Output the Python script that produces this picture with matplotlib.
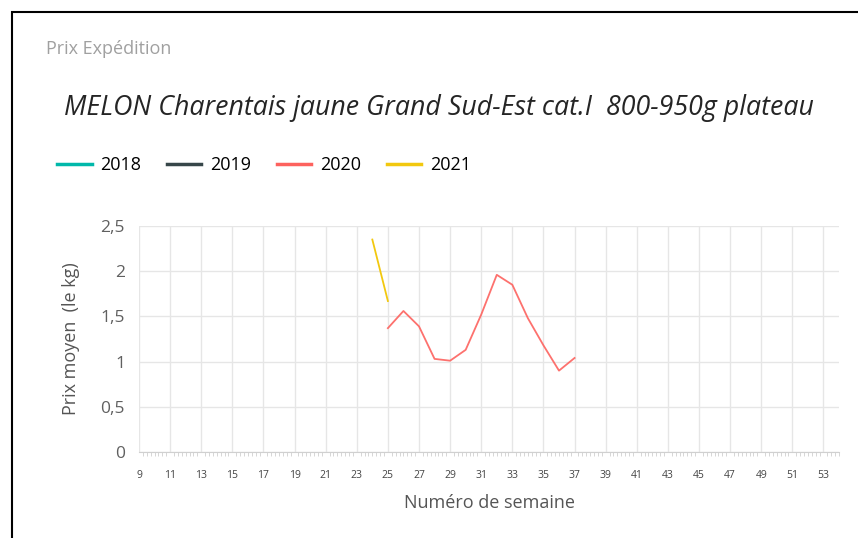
import matplotlib.pyplot as plt
from matplotlib.lines import Line2D
from matplotlib.patches import Rectangle
import numpy as np

# ---------------------------------------------------------------------------
# Data
# ---------------------------------------------------------------------------
YEARS = ["2018", "2019", "2020", "2021"]
COLORS = ["#01B8AA", "#374649", "#FD625E", "#F2C80F"]

weeks_2020 = [25, 26, 27, 28, 29, 30, 31, 32, 33, 34, 35, 36, 37]
price_2020 = [1.37, 1.56, 1.39, 1.03, 1.01, 1.13, 1.52, 1.96, 1.85, 1.48, 1.18, 0.90, 1.04]

weeks_2021 = [24, 25]
price_2021 = [2.35, 1.67]

x_ticks = list(range(9, 54, 2))
y_ticks = [0, 0.5, 1, 1.5, 2, 2.5]
y_labels = ["0", "0,5", "1", "1,5", "2", "2,5"]

# ---------------------------------------------------------------------------
plt.rcParams["font.family"] = ["Open Sans", "DejaVu Sans"]

fig = plt.figure(figsize=(8.58, 5.38), dpi=100)
ax = fig.add_axes([139 / 858, 1 - 452 / 538, (839 - 139) / 858, (452 - 226) / 538])

ax.plot(weeks_2020, price_2020, color=COLORS[2], lw=1.3, alpha=0.9, solid_joinstyle="round")
ax.plot(weeks_2021, price_2021, color=COLORS[3], lw=1.3)

ax.set_xlim(9, 54)
ax.set_ylim(0, 2.5)
ax.set_xticks(x_ticks)
ax.set_xticklabels([str(t) for t in x_ticks], fontsize=7.5, color="#444444")
ax.set_xticks(np.arange(9, 54.01, 0.25), minor=True)
ax.set_yticks(y_ticks)
ax.set_yticklabels(y_labels, fontsize=12.5, color="#606060")

ax.grid(True, which="major", color="#e6e6e6", lw=1)
ax.set_axisbelow(True)
for s in ["top", "right", "left"]:
    ax.spines[s].set_visible(False)
ax.spines["bottom"].set_color("#d0d0d0")
ax.tick_params(axis="y", length=0, pad=10)
ax.tick_params(axis="x", which="major", length=0, pad=13)
ax.tick_params(axis="x", which="minor", length=3, color="#d0d0d0", direction="out")

ax.set_xlabel("Numéro de semaine", fontsize=13, color="#555555", labelpad=9)
ax.set_ylabel("Prix moyen  (le kg)", fontsize=13, color="#555555", labelpad=15)

# header texts
fig.text(46 / 858, 1 - 49 / 538, "Prix Expédition", fontsize=13, color="#a0a0a0",
         va="center", ha="left")
fig.text(439 / 858, 1 - 108 / 538, "MELON Charentais jaune Grand Sud-Est cat.I  800-950g plateau",
         fontsize=19.3, style="italic", color="#252525", va="center", ha="center")

handles = [Line2D([0], [0], color=c, lw=2.5) for c in COLORS]
fig.legend(handles, YEARS, loc="center left", bbox_to_anchor=(50 / 858, 1 - 165 / 538),
           ncol=4, frameon=False, fontsize=13, handlelength=1.9, handletextpad=0.5,
           columnspacing=1.42, borderaxespad=0)

# outer frame
fig.patches.append(Rectangle((12 / 858, -0.01), 1.0, 1 - 12 / 538 + 0.01,
                             transform=fig.transFigure, fill=False, ec="black", lw=1.5))

fig.savefig("out.png", dpi=100)
